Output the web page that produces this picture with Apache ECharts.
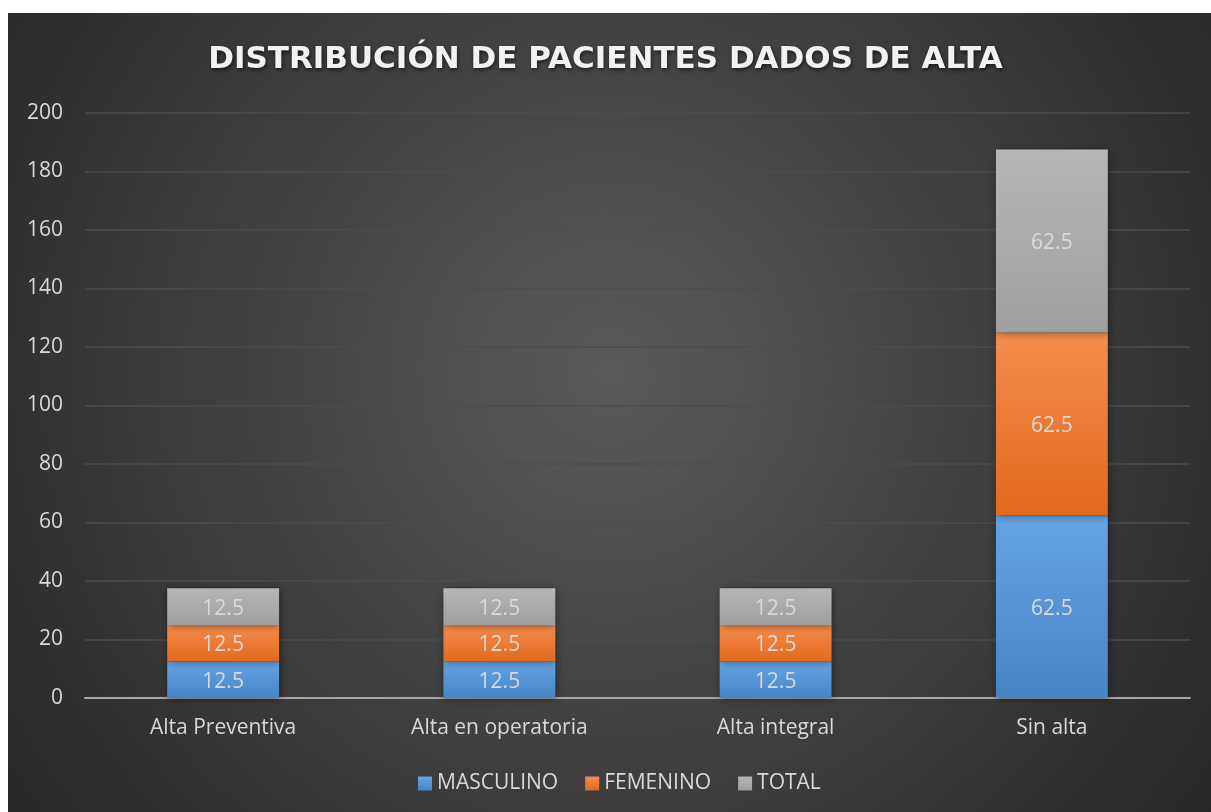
<!DOCTYPE html>
<html><head><meta charset="utf-8">
<script src="https://cdn.jsdelivr.net/npm/echarts@6/dist/echarts.min.js"></script>
<style>html,body{margin:0;padding:0;background:#fff;}#c{width:1211px;height:812px;}</style>
</head><body><div id="c"></div>
<script>
const categories = ['Alta Preventiva', 'Alta en operatoria', 'Alta integral', 'Sin alta'];
const masculino = [12.5, 12.5, 12.5, 62.5];
const femenino = [12.5, 12.5, 12.5, 62.5];
const total = [12.5, 12.5, 12.5, 62.5];
const yTicks = {min: 0, max: 200, interval: 20};

const chart = echarts.init(document.getElementById('c'), null, {renderer: 'canvas'});
function grad(top, bottom) {
  return new echarts.graphic.LinearGradient(0, 0, 0, 1, [{offset: 0, color: top}, {offset: 1, color: bottom}]);
}
const labelStyle = {show: true, position: 'inside', offset: [0, 2], color: '#d9d9d9', fontSize: 21, fontFamily: 'Open Sans'};
function mkSeries(name, data, top, bottom) {
  return {
    name, type: 'bar', stack: 'a', data, barWidth: '40.5%',
    itemStyle: {color: grad(top, bottom), shadowBlur: 8, shadowColor: 'rgba(0,0,0,0.45)', shadowOffsetX: 1, shadowOffsetY: 1},
    label: labelStyle,
    emphasis: {disabled: true}
  };
}
chart.setOption({
  animation: false,
  backgroundColor: '#ffffff',
  graphic: [{
    type: 'rect', z: -10, silent: true,
    shape: {x: 8, y: 13, width: 1203, height: 799},
    style: {fill: new echarts.graphic.RadialGradient(0.5, 0.45, 0.95, [
      {offset: 0, color: '#5a5a5a'}, {offset: 1, color: '#262626'}])}
  }],
  title: {
    text: 'DISTRIBUCIÓN DE PACIENTES DADOS DE ALTA',
    left: 'center', top: 39,
    textStyle: {color: '#f2f2f2', fontSize: 31, fontWeight: 'bold', fontFamily: 'DejaVu Sans',
      textShadowColor: 'rgba(0,0,0,0.6)', textShadowBlur: 4, textShadowOffsetX: 1, textShadowOffsetY: 2}
  },
  legend: {
    bottom: 13, left: 413, itemWidth: 14, itemHeight: 14, itemGap: 27,
    icon: 'rect',
    textStyle: {color: '#d9d9d9', fontSize: 21, fontFamily: 'Open Sans'},
    data: ['MASCULINO', 'FEMENINO', 'TOTAL']
  },
  grid: {left: 85, right: 21, top: 113, bottom: 114, containLabel: false},
  xAxis: {
    type: 'category', data: categories,
    axisLine: {lineStyle: {color: '#a6a6a6', width: 2}},
    axisTick: {show: false},
    axisLabel: {color: '#d9d9d9', fontSize: 21, fontFamily: 'Open Sans', margin: 20}
  },
  yAxis: {
    type: 'value', min: yTicks.min, max: yTicks.max, interval: yTicks.interval,
    axisLine: {show: false}, axisTick: {show: false},
    axisLabel: {color: '#d9d9d9', fontSize: 21, fontFamily: 'Open Sans', margin: 22},
    splitLine: {lineStyle: {color: '#4d4d4d', width: 1.5}}
  },
  series: [
    mkSeries('MASCULINO', masculino, '#64a5e4', '#4684c6'),
    mkSeries('FEMENINO', femenino, '#f58d4e', '#e2691c'),
    mkSeries('TOTAL', total, '#b6b6b6', '#9f9f9f')
  ]
});
</script></body></html>
